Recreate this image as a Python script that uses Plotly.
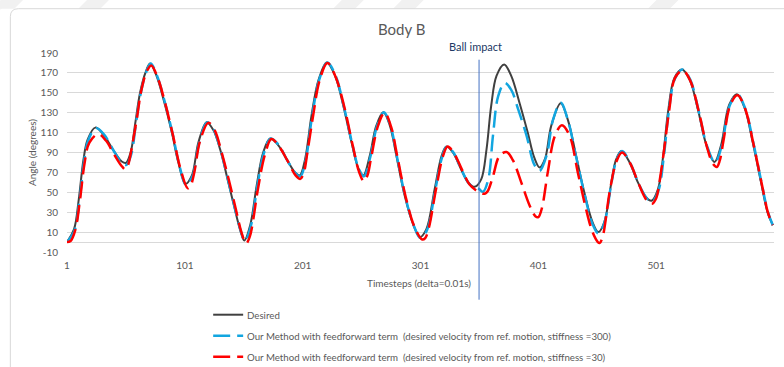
import plotly.graph_objects as go

# ---- data: joint angle of Body B over time (timestep, degrees) ----
step_desired = [1, 7, 11, 15, 18.5, 25, 32, 40.5, 47.5, 51, 55, 59, 63, 67.5, 71.5, 77, 83, 90, 95.5,
                101.5, 107, 112.5, 119.5, 125, 131, 136.5, 142, 148, 151.5, 156.5, 162, 167.5, 173.5,
                180.5, 187.5, 194.5, 198.5, 203, 208.5, 214.5, 221.5, 228.5, 235.5, 242.5, 248, 252.5,
                258, 263.5, 269.5, 275, 280.5, 287.5, 295, 300.5, 306, 313, 319, 323, 328.5, 335.5,
                341.5, 347, 352.5, 357, 361, 365.5, 372, 378, 385, 392, 397.5, 402, 406.5, 412, 420,
                426, 433, 440, 447, 452, 457, 463, 467, 471.5, 478.5, 485.5, 492.5, 497, 502.5, 507,
                511, 516.5, 523, 529.5, 536.5, 543.5, 550.5, 556, 563, 569.5, 576, 583, 590, 595.5, 600]
angle_desired = [0, 13, 43, 83, 103, 115, 108, 92, 81, 79.5, 90, 120, 150, 170, 179.5, 167, 143, 110, 80,
                 58.5, 67, 100, 120.5, 113, 93, 67, 40, 12, 1.5, 17, 57, 90, 104,
                 97, 83, 70, 67, 83, 127, 163, 180.5, 167, 137, 100, 75, 67,
                 87, 117, 130.5, 117, 87, 47, 17, 5, 13, 53, 87, 96, 90, 73,
                 60, 55.5, 63, 93, 137, 167, 178.5, 167, 140, 110, 85, 75, 83, 117, 139.5,
                 123, 87, 50, 20, 10, 20, 60, 83, 91.5, 80, 60, 45, 41.5, 53, 87,
                 130, 165, 173.5, 163, 133, 98, 80.5, 97, 138, 148.5, 135, 100, 60, 30, 17]

step_k300 = [1, 7.5, 11.5, 15.5, 19, 25.5, 32.5, 41, 48, 51.5, 55.5, 59.5, 63.5, 68, 72, 77.5, 83.5, 90.5,
             96, 102, 107.5, 113, 120, 125.5, 131.5, 137, 142.5, 148.5, 152, 157, 162.5, 168, 174,
             181, 188, 195, 199, 203.5, 209, 215, 222, 229, 236, 243, 248.5, 253, 258.5, 264, 270,
             275.5, 281, 288, 295.5, 301, 306.5, 313.5, 319.5, 323.5, 329, 336, 342, 347.5, 350.5,
             354, 358.5, 362.5, 367, 372.5, 378, 384, 391, 397.5, 402, 408, 413.5, 420, 426, 433,
             440, 447, 452, 457, 463, 467.5, 472, 479, 486, 493, 497.5, 503, 507.5, 511.5, 517,
             523.5, 530, 537, 544, 551, 556.5, 563.5, 570, 576.5, 583.5, 590.5, 596, 600]
angle_k300 = [0, 12, 41, 81, 102, 114.5, 108, 91, 79, 77.5, 88, 119, 149, 170, 179.5, 167, 143, 109.5,
              79, 57.5, 66, 99, 120.5, 113, 92, 66, 39, 11, 1, 16, 56, 89, 104,
              97, 82, 69, 66, 82, 126, 163, 180.5, 167, 136, 99, 74, 66, 86, 116, 130.5,
              117, 86, 46, 16, 4, 12, 52, 86, 96, 90, 72, 59, 54.5, 53.5,
              50.5, 63, 107, 147, 160, 153, 133, 107, 78, 71.5, 87, 123, 140, 123, 86,
              49, 18, 8.5, 19, 59, 83, 91.5, 79.5, 59, 44, 40.5, 52, 86, 129, 164.5,
              173.5, 163, 132, 97, 80, 96, 137.5, 148.5, 134.5, 99.5, 59, 29.5, 17]

step_k30 = [1, 4, 8, 12, 16, 20, 27.5, 34, 41, 47, 50.5, 53, 56, 60, 64, 68.5, 72.5, 78, 84, 91, 97,
            103.5, 106, 109, 114, 121, 126.5, 132, 138, 143.5, 149, 153, 156, 158, 163, 169, 174.5,
            181, 188, 195, 199, 202, 205, 210, 215.5, 222, 229, 236.5, 243.5, 249, 253, 256, 259,
            265, 270.5, 276, 281.5, 288.5, 296, 302.5, 305, 308, 314, 320, 324, 329.5, 336.5, 342.5,
            348, 352, 355.5, 358, 362.5, 368, 374, 379.5, 386.5, 393.5, 398.5, 401, 404, 409, 415,
            421, 427.5, 434.5, 441.5, 447, 451.5, 453, 455.5, 461.5, 467, 472, 479, 486, 493, 497.5,
            501, 504, 508, 512, 517, 523.5, 530, 537, 544, 549, 552.5, 555, 558, 564, 570, 576.5,
            583.5, 590.5, 596, 600]
angle_k30 = [0, 1, 12, 42, 80, 100, 108.5, 102, 88, 77, 73, 78, 95, 122, 152, 171, 177.5, 165, 141, 107, 75,
             54, 57, 70, 102, 120, 112, 91, 64, 37, 10, -1.5, 5, 15, 53, 88, 103.5,
             96, 82, 67, 63.5, 70, 90, 128, 163, 180, 166, 135, 97, 70, 61, 67, 84,
             117, 130, 116, 85, 45, 15, 2.5, 4, 14, 52, 86, 96, 89, 72, 58,
             52, 49.5, 48.5, 51, 66, 86.5, 90.5, 82, 60, 37, 26, 25, 34, 70, 106.5,
             117.5, 107, 70, 33, 10, 0, -1, 5, 50, 80, 90, 79, 59, 42, 38.5,
             44, 62, 95, 132, 165, 172.5, 162, 132, 96, 79, 75.5, 82, 101, 138, 147.5, 134,
             99, 59, 29, 17]

impact_step = 350.7
x_ticks = [1, 101, 201, 301, 401, 501]
y_ticks = [-10, 10, 30, 50, 70, 90, 110, 130, 150, 170, 190]

series_names = [
    "Desired",
    "Our Method with feedforward term  (desired velocity from ref. motion, stiffness =300)",
    "Our Method with feedforward term  (desired velocity from ref. motion, stiffness =30)",
]
series_colors = ["#404040", "#12A6E0", "#FF0000"]
series_widths = [2, 2.5, 2.5]
series_dash = ["solid", "17px,7px", "17px,7px"]

# ---- page geometry (pixels) ----
W, H = 784, 367
L, R, T, B = 66.7, 774.3, 53.3, 252.3


def px(x):
    return (x - L) / (R - L)


def py(y):
    return (B - y) / (B - T)


FONT = "Lato"
GREY = "#595959"

fig = go.Figure()
for xs, ys, name, col, w, d in zip([step_desired, step_k300, step_k30],
                                   [angle_desired, angle_k300, angle_k30],
                                   series_names, series_colors, series_widths, series_dash):
    fig.add_trace(go.Scatter(x=xs, y=ys, mode="lines", name=name, showlegend=False,
                             line=dict(color=col, width=w, dash=d, shape="spline")))

shapes = []
# faint diagonal bands of the page behind the chart frame
for x0 in [-8, 78, 333, 393, 648]:
    shapes.append(dict(type="path", xref="paper", yref="paper", layer="below",
                       path=f"M {px(x0)},{py(9)} L {px(x0 + 22)},{py(9)} "
                            f"L {px(x0 + 31)},{py(0)} L {px(x0 + 9)},{py(0)} Z",
                       fillcolor="#F1F1F1", line=dict(width=0)))
shapes.append(dict(type="path", xref="paper", yref="paper", layer="below",
                   path=f"M {px(0)},{py(10)} L {px(10)},{py(0)} L {px(0)},{py(0)} Z",
                   fillcolor="#F1F1F1", line=dict(width=0)))
# chart frame
shapes.append(dict(type="path", xref="paper", yref="paper", layer="below",
                   path=f"M {px(10)},{py(380)} L {px(10)},{py(17)} Q {px(10)},{py(9)} {px(18)},{py(9)} "
                        f"L {px(800)},{py(9)}",
                   line=dict(color="#D9D9D9", width=1)))
# moment of the ball impact
shapes.append(dict(type="line", xref="x", yref="paper", x0=impact_step, x1=impact_step,
                   y0=py(300), y1=py(60), line=dict(color="#4472C4", width=1)))

annotations = [
    dict(text="Body B", x=px(401), y=py(29), xref="paper", yref="paper", showarrow=False,
         font=dict(family=FONT, size=15, color=GREY), xanchor="center", yanchor="middle"),
    dict(text="Ball impact", x=px(476), y=py(47), xref="paper", yref="paper", showarrow=False,
         font=dict(family=FONT, size=11, color="#203864"), xanchor="center", yanchor="middle"),
    dict(text="Timesteps (delta=0.01s)", x=px(419), y=py(283), xref="paper", yref="paper",
         showarrow=False, font=dict(family=FONT, size=10, color=GREY),
         xanchor="center", yanchor="middle"),
    dict(text="Angle (degrees)", x=px(31), y=py(153), xref="paper", yref="paper",
         showarrow=False, textangle=-90, font=dict(family=FONT, size=10, color=GREY),
         xanchor="center", yanchor="middle"),
]

# legend below the axis title
for i, (name, col, w, d) in enumerate(zip(series_names, series_colors, series_widths, series_dash)):
    yc = 315 + 21 * i
    shapes.append(dict(type="line", xref="paper", yref="paper",
                       x0=px(213), x1=px(243), y0=py(yc), y1=py(yc),
                       line=dict(color=col, width=w, dash=d)))
    annotations.append(dict(text=name, x=px(245), y=py(yc), xref="paper", yref="paper",
                            showarrow=False, xanchor="left", yanchor="middle",
                            font=dict(family=FONT, size=9.7, color=GREY)))

fig.update_layout(
    width=W, height=H,
    margin=dict(l=L, r=W - R, t=T, b=H - B, pad=0),
    paper_bgcolor="white", plot_bgcolor="white",
    font=dict(family=FONT, color=GREY),
    showlegend=False,
    xaxis=dict(range=[1, 601], tickmode="array", tickvals=x_ticks,
               ticktext=[str(v) for v in x_ticks], showgrid=False, zeroline=False,
               showline=False, ticks="", ticklabelstandoff=6,
               tickfont=dict(family=FONT, size=10, color=GREY)),
    yaxis=dict(range=[-10, 190], tickmode="array", tickvals=y_ticks,
               ticktext=[str(v) for v in y_ticks],
               showgrid=True, gridcolor="#D9D9D9", gridwidth=1,
               zeroline=True, zerolinecolor="#D9D9D9", zerolinewidth=1,
               showline=False, ticks="", ticklabelstandoff=8,
               tickfont=dict(family=FONT, size=10, color=GREY)),
    shapes=shapes, annotations=annotations,
)

fig.write_html("out.html")
